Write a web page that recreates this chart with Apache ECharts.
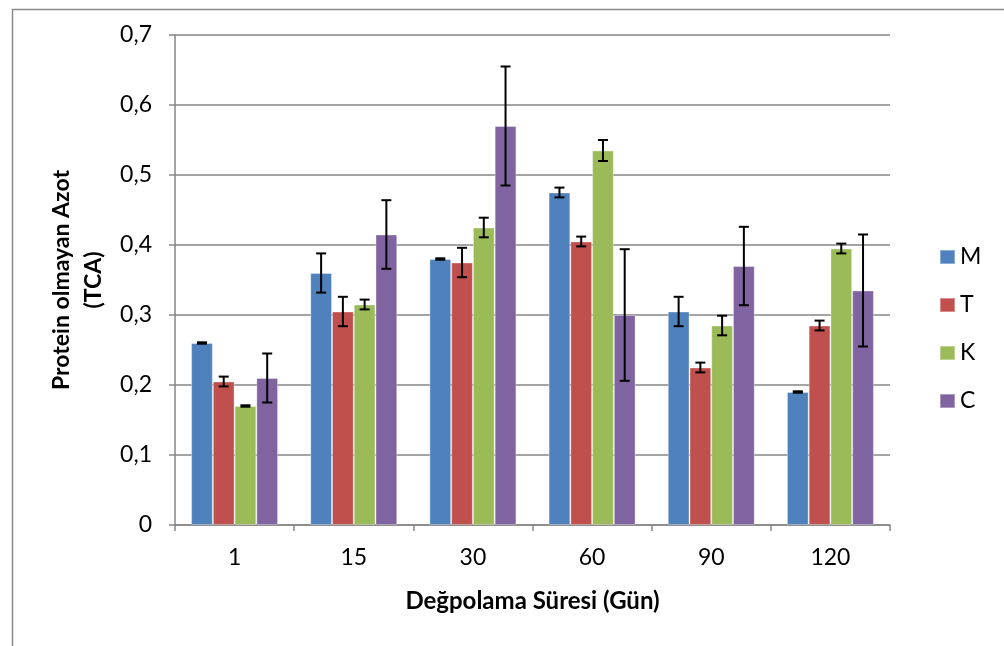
<!DOCTYPE html>
<html><head><meta charset="utf-8">
<script src="https://cdn.jsdelivr.net/npm/echarts@6/dist/echarts.min.js"></script>
<style>html,body{margin:0;padding:0;background:#fff}#c{width:1004px;height:646px}</style>
</head><body><div id="c"></div>
<script>
var categories = ['1','15','30','60','90','120'];
var seriesNames = ['M','T','K','C'];
var valM = [0.26, 0.36, 0.38, 0.475, 0.305, 0.19];
var valT = [0.205, 0.305, 0.375, 0.405, 0.225, 0.285];
var valK = [0.17, 0.315, 0.425, 0.535, 0.285, 0.395];
var valC = [0.21, 0.415, 0.57, 0.30, 0.37, 0.335];
var errM = [0.001, 0.028, 0.001, 0.007, 0.021, 0.001];
var errT = [0.007, 0.021, 0.021, 0.007, 0.007, 0.007];
var errK = [0.001, 0.007, 0.014, 0.015, 0.014, 0.007];
var errC = [0.035, 0.049, 0.085, 0.094, 0.056, 0.080];
var yTicks = [0, 0.1, 0.2, 0.3, 0.4, 0.5, 0.6, 0.7];
var colors = ['#4F81BD', '#C0504D', '#9BBB59', '#8064A2'];

var vals = [valM, valT, valK, valC];
var errs = [errM, errT, errK, errC];
var FONT = 'Lato';
var FS = 23;
var GAP = 0.27;

var series = [];
seriesNames.forEach(function (n, i) {
  series.push({
    name: n, type: 'bar', data: vals[i], barGap: '0%', barCategoryGap: (GAP * 100) + '%',
    itemStyle: { color: colors[i], borderColor: 'rgba(255,255,255,0.35)', borderWidth: 1 },
    z: 2
  });
});
seriesNames.forEach(function (n, i) {
  series.push({
    type: 'custom', name: n + '_err', z: 5, silent: true,
    data: vals[i].map(function (v, j) { return [j, v - errs[i][j], v + errs[i][j]]; }),
    renderItem: function (params, api) {
      var x = api.value(0);
      var lo = api.coord([x, api.value(1)]);
      var hi = api.coord([x, api.value(2)]);
      var band = api.size([1, 0])[0];
      var bw = band * (1 - GAP) / 4;
      var cx = lo[0] + (i - 1.5) * bw;
      var cap = 5;
      var st = { stroke: '#000', lineWidth: 2 };
      return { type: 'group', children: [
        { type: 'line', shape: { x1: cx, y1: lo[1], x2: cx, y2: hi[1] }, style: st },
        { type: 'line', shape: { x1: cx - cap, y1: lo[1], x2: cx + cap, y2: lo[1] }, style: st },
        { type: 'line', shape: { x1: cx - cap, y1: hi[1], x2: cx + cap, y2: hi[1] }, style: st }
      ]};
    }
  });
});

var chart = echarts.init(document.getElementById('c'));
chart.setOption({
  animation: false,
  backgroundColor: '#fff',
  textStyle: { fontFamily: FONT },
  graphic: [{
    type: 'rect', left: 10, top: 7, z: -10,
    shape: { width: 1100, height: 700 },
    style: { fill: 'none', stroke: '#8a8a8a', lineWidth: 1.5 }
  }],
  grid: { left: 175, right: 114, top: 35, bottom: 121 },
  legend: {
    orient: 'vertical', left: 934, top: 240, itemWidth: 15, itemHeight: 14, itemGap: 24,
    icon: 'rect', data: seriesNames,
    textStyle: { fontFamily: FONT, fontSize: FS, lineHeight: 24, color: '#000', padding: [0, 0, 0, 0] }
  },
  xAxis: {
    type: 'category', data: categories,
    name: 'Değpolama Süresi (Gün)', nameLocation: 'middle', nameGap: 64,
    nameTextStyle: { fontFamily: FONT, fontSize: 24, fontWeight: 'bold', color: '#000' },
    axisLine: { lineStyle: { color: '#868686', width: 1.5 } },
    axisTick: { show: true, length: 6, lineStyle: { color: '#868686', width: 1.5 } },
    axisLabel: { fontFamily: FONT, fontSize: FS, color: '#000', margin: 21 }
  },
  yAxis: {
    type: 'value', min: 0, max: 0.7, interval: 0.1,
    name: 'Protein olmayan Azot\n(TCA)', nameLocation: 'middle', nameGap: 64, nameRotate: 90,
    nameTextStyle: { fontFamily: FONT, fontSize: FS, fontWeight: 'bold', color: '#000', lineHeight: 32 },
    axisLine: { show: true, lineStyle: { color: '#868686', width: 1.5 } },
    axisTick: { show: true, length: 6, lineStyle: { color: '#868686', width: 1.5 } },
    splitLine: { lineStyle: { color: '#868686', width: 1.5 } },
    axisLabel: {
      fontFamily: FONT, fontSize: FS, color: '#000', margin: 23,
      formatter: function (v) {
        var t = yTicks.reduce(function (a, b) { return Math.abs(b - v) < Math.abs(a - v) ? b : a; });
        return t === 0 ? '0' : t.toFixed(1).replace('.', ',');
      }
    }
  },
  series: series
});
</script></body></html>
